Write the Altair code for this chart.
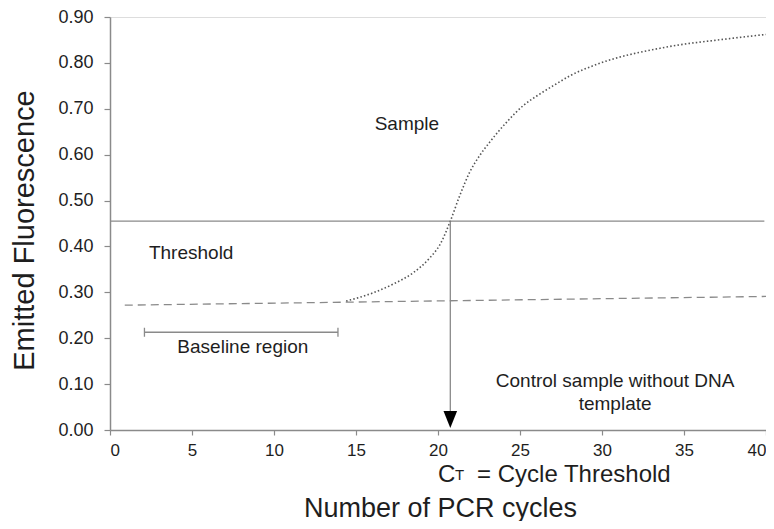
import altair as alt
import pandas as pd

# Sample amplification curve
cycles = [14.4, 16.05, 17.27, 18.5, 19.5, 20.12, 20.75, 21.34, 21.95, 22.56, 23.17, 24.19, 25.2,
          26.2, 27.2, 28.05, 29.7, 33.7, 37.8, 40.0]
fluor = [0.281, 0.299, 0.318, 0.343, 0.375, 0.404, 0.455, 0.512, 0.563, 0.599, 0.628, 0.671, 0.707,
         0.732, 0.754, 0.772, 0.797, 0.833, 0.853, 0.862]

# Control sample (no template) line
control_x = [0.9, 40.0]
control_y = [0.272, 0.291]

# Threshold and Ct
threshold = 0.455
threshold_x = [0.0, 39.9]
ct = 20.75
arrow_tip_y = 0.023

# Baseline region bar
baseline_x = [2.1, 13.9]
baseline_y = 0.213

# Annotation labels
labels = ["Sample", "Threshold", "Baseline region", "Control sample without DNA", "template"]
label_x = [18.1, 4.95, 8.1, 30.8, 30.8]
label_y = [0.667, 0.385, 0.18, 0.106, 0.056]

# Ct label parts
ct_parts = ["C", "T", "= Cycle Threshold"]
ct_part_x = [20.0, 21.04, 22.38]
ct_part_y = [-0.1126, -0.1085, -0.1126]
ct_part_size = [24, 15, 24]

FONT = "Liberation Sans"
GRAY = "#8a8a8a"
TXT = "#1e1e1e"

xs = alt.Scale(domain=[0, 40], nice=False, zero=False)
ys = alt.Scale(domain=[0, 0.9], nice=False, zero=False)

sample_df = pd.DataFrame({"x": cycles, "y": fluor})
control_df = pd.DataFrame({"x": control_x, "y": control_y})
thr_df = pd.DataFrame({"x": [threshold_x[0]], "x2": [threshold_x[1]], "y": [threshold]})
ct_df = pd.DataFrame({"x": [ct], "y": [threshold], "y2": [arrow_tip_y + 0.01]})
tip_df = pd.DataFrame({"x": [ct], "y": [arrow_tip_y]})
base_df = pd.DataFrame({"x": [baseline_x[0]], "x2": [baseline_x[1]], "y": [baseline_y]})
cap_df = pd.DataFrame({"x": baseline_x, "y": [baseline_y, baseline_y]})
lab_df = pd.DataFrame({"label": labels, "x": label_x, "y": label_y})
ctp_df = pd.DataFrame({"label": ct_parts, "x": ct_part_x, "y": ct_part_y, "s": ct_part_size})

x_axis = alt.Axis(
    values=[0, 5, 10, 15, 20, 25, 30, 35, 40], grid=False, title="Number of PCR cycles",
    labelFont=FONT, labelFontSize=17, labelColor=TXT, labelPadding=7,
    tickSize=5, tickColor=GRAY, domainColor=GRAY, domainWidth=1.5, tickWidth=1.2,
    titleFont=FONT, titleFontSize=27, titleFontWeight="normal", titleColor=TXT,
    titleX=330, titleY=78, titleBaseline="middle", titleAlign="center",
)
y_axis = alt.Axis(
    values=[0, 0.1, 0.2, 0.3, 0.4, 0.5, 0.6, 0.7, 0.8, 0.9], format=".2f", grid=False,
    title="Emitted Fluorescence",
    labelFont=FONT, labelFontSize=18, labelColor=TXT, labelPadding=11,
    tickSize=6, tickColor=GRAY, domainColor=GRAY, domainWidth=1.5, tickWidth=1.2,
    titleFont=FONT, titleFontSize=29, titleFontWeight="normal", titleColor=TXT,
    titleX=-86, titleY=213, titleBaseline="middle", titleAlign="center", titleAngle=-90,
)

X = alt.X("x:Q", scale=xs, axis=x_axis)
Y = alt.Y("y:Q", scale=ys, axis=y_axis)

sample = alt.Chart(sample_df).mark_line(
    color="#555555", strokeWidth=1.6, strokeDash=[1.5, 2.2], interpolate="monotone"
).encode(x=X, y=Y)

control = alt.Chart(control_df).mark_line(
    color=GRAY, strokeWidth=1.3, strokeDash=[8, 5]
).encode(x=X, y=Y)

thr = alt.Chart(thr_df).mark_rule(color=GRAY, strokeWidth=1.3).encode(x=X, x2="x2:Q", y=Y)

ctline = alt.Chart(ct_df).mark_rule(color=GRAY, strokeWidth=1.3).encode(x=X, y=Y, y2="y2:Q")

tip = alt.Chart(tip_df).mark_point(
    shape="M -0.8 -1 L 0.8 -1 L 0 1 Z", filled=True, color="#000000", size=290, opacity=1
).encode(x=X, y=Y)

base = alt.Chart(base_df).mark_rule(color=GRAY, strokeWidth=1.3).encode(x=X, x2="x2:Q", y=Y)

caps = alt.Chart(cap_df).mark_tick(orient="vertical", color=GRAY, thickness=1.3, size=9, opacity=1).encode(
    x=X, y=Y)

labs = alt.Chart(lab_df).mark_text(
    font=FONT, fontSize=19, color=TXT, align="center", baseline="middle"
).encode(x=X, y=Y, text="label:N")

ctlab = alt.Chart(ctp_df).mark_text(
    font=FONT, color=TXT, align="left", baseline="alphabetic"
).encode(
    x=X, y=Y, text="label:N",
    size=alt.Size("s:Q", scale=None, legend=None),
)

chart = alt.layer(thr, control, sample, ctline, tip, base, caps, labs, ctlab).properties(
    width=656, height=413,
    padding={"left": 102, "top": 9, "right": 0, "bottom": 91},
    autosize=alt.AutoSizeParams(type="none"),
).configure_view(strokeWidth=0).configure(background="white")

chart.save("out.html", embed_options={"renderer": "svg", "actions": False})
